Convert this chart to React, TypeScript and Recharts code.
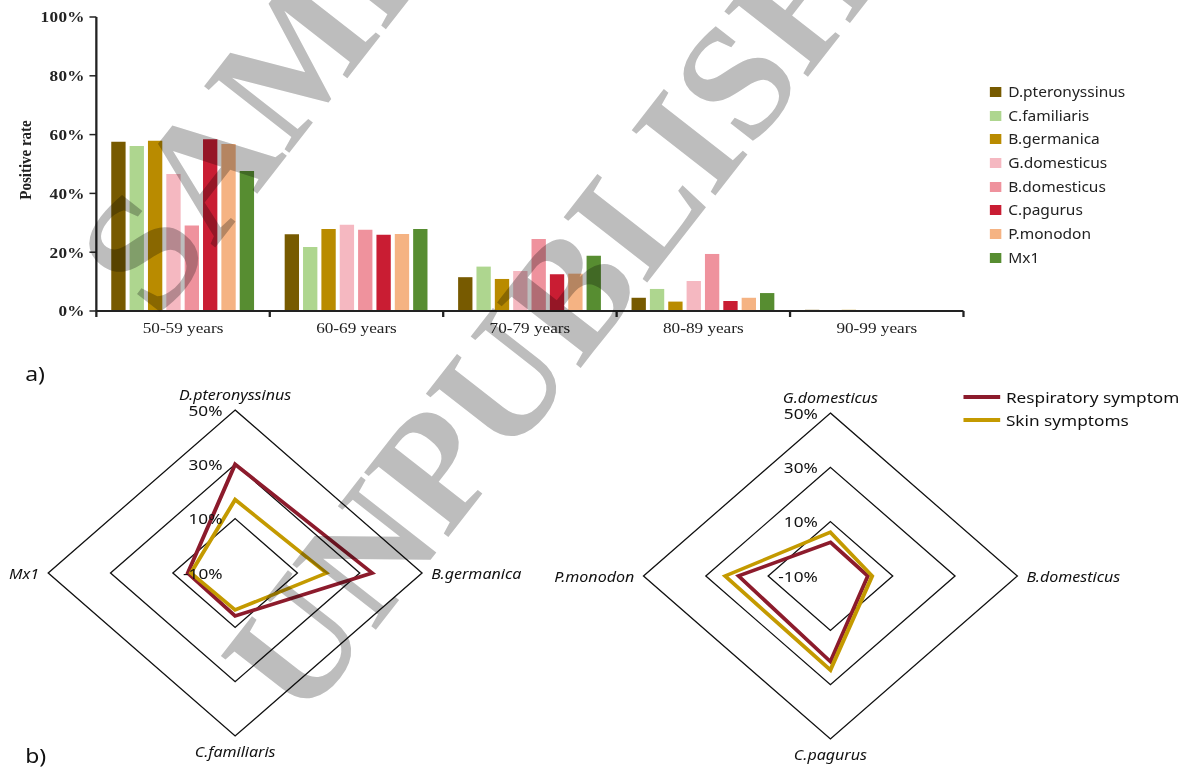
import React from "react";
import {
  BarChart,
  Bar,
  XAxis,
  YAxis,
  RadarChart,
  Radar,
  PolarGrid,
  PolarAngleAxis,
  PolarRadiusAxis,
} from "recharts";

const SERIF = '"Liberation Serif", "Times New Roman", serif';
const SANS = '"Noto Sans", "Open Sans", "DejaVu Sans", sans-serif';
// the figure is laid out narrow and then widened as a whole
const STRETCH = 1.147;

// ---- a) positive rate by age group ----
const ageGroups = ["50-59 years", "60-69 years", "70-79 years", "80-89 years", "90-99 years"];
const allergens = [
  "D.pteronyssinus",
  "C.familiaris",
  "B.germanica",
  "G.domesticus",
  "B.domesticus",
  "C.pagurus",
  "P.monodon",
  "Mx1",
];
const allergenColors = ["#775a00", "#aed68f", "#b98b00", "#f5b8c1", "#ef929d", "#c91d33", "#f5b383", "#578d31"];

const dPteronyssinus = [57.6, 26.1, 11.5, 4.5, 0.4];
const cFamiliaris = [56.1, 21.8, 15.1, 7.5, 0];
const bGermanica = [57.9, 27.9, 10.9, 3.2, 0.4];
const gDomesticus = [46.6, 29.3, 13.6, 10.2, 0];
const bDomesticus = [29.1, 27.6, 24.5, 19.4, 0];
const cPagurus = [58.4, 25.9, 12.5, 3.4, 0];
const pMonodon = [56.8, 26.2, 12.7, 4.5, 0.3];
const mx1 = [47.6, 27.9, 18.8, 6.1, 0];
const allergenRates = [dPteronyssinus, cFamiliaris, bGermanica, gDomesticus, bDomesticus, cPagurus, pMonodon, mx1];
const rateTicks = [0, 20, 40, 60, 80, 100];

// ---- b) positive rate by symptom ----
const symptoms = ["Respiratory symptom", "Skin symptoms"];
const symptomColors = ["#8c1b2c", "#c49a00"];
const radarTicks = [-10, 10, 30, 50];

const radarAxesA = ["D.pteronyssinus", "B.germanica", "C.familiaris", "Mx1"];
const respiratoryA = [30.0, 34.0, 5.8, 5.2];
const skinA = [17.0, 19.3, 3.6, 4.2];

const radarAxesB = ["G.domesticus", "B.domesticus", "C.pagurus", "P.monodon"];
const respiratoryB = [2.4, 2.0, 21.5, 19.5];
const skinB = [6.1, 3.4, 24.6, 23.8];

const PLOT_BOTTOM = 311;
const RADAR_W = 600;
const RADAR_CX = 300;

const barRows = ageGroups.map((group, i) => ({
  group,
  values: allergenRates.map((series) => series[i]),
}));

function AgeTick(props: any) {
  const { x, payload, index } = props;
  const half = payload.offset || 75.6;
  const last = index === ageGroups.length - 1;
  return (
    <g>
      <line x1={x - half} y1={PLOT_BOTTOM} x2={x - half} y2={PLOT_BOTTOM + 6} stroke="#222" strokeWidth={2} />
      {last && (
        <line x1={x + half} y1={PLOT_BOTTOM} x2={x + half} y2={PLOT_BOTTOM + 6} stroke="#222" strokeWidth={2} />
      )}
      <text x={x} y={PLOT_BOTTOM + 22} textAnchor="middle" fontFamily={SERIF} fontSize={15} fill="#222">
        {payload.value}
      </text>
    </g>
  );
}

function AgeBarChart() {
  return (
    <BarChart
      width={850}
      height={350}
      data={barRows}
      barGap={3.5}
      margin={{ top: 17, right: 10, bottom: 0, left: 24 }}
    >
      <XAxis
        dataKey="group"
        height={39}
        interval={0}
        axisLine={{ stroke: "#222", strokeWidth: 2 }}
        tickLine={false}
        tick={<AgeTick />}
      />
      <YAxis
        type="number"
        width={60}
        domain={[0, 100]}
        ticks={rateTicks}
        tickCount={6}
        tickFormatter={(v: number) => `${v}%`}
        axisLine={{ stroke: "#222", strokeWidth: 2 }}
        tickLine={{ stroke: "#222", strokeWidth: 1.5 }}
        tickSize={6}
        tickMargin={4}
        tick={{ fontFamily: SERIF, fontSize: 15, fontWeight: "bold", fill: "#222", letterSpacing: 0.3 }}
        label={({ viewBox }: any) => (
          <text
            transform={`translate(22, ${viewBox.y + viewBox.height / 2 - 4}) rotate(-90)`}
            textAnchor="middle"
            dominantBaseline="central"
            fontFamily={SERIF}
            fontWeight="bold"
            fontSize={15}
            fill="#222"
          >
            Positive rate
          </text>
        )}
      />
      {allergens.map((name, j) => (
        <Bar
          key={name}
          name={name}
          dataKey={(row: any) => row.values[j]}
          fill={allergenColors[j]}
          barSize={12.5}
          isAnimationActive={false}
        />
      ))}
    </BarChart>
  );
}

function AllergenLegend() {
  return (
    <div style={{ position: "absolute", left: 863, top: 80, fontFamily: SANS, fontSize: 13.5, color: "#222" }}>
      {allergens.map((name, j) => (
        <div key={name} style={{ height: 23.7, display: "flex", alignItems: "center" }}>
          <span style={{ width: 10, height: 10, background: allergenColors[j], marginRight: 6 }} />
          {name}
        </div>
      ))}
    </div>
  );
}

function SpokeLabel(props: any) {
  const { x, y, payload, textAnchor } = props;
  const s = Math.sin((payload.coordinate * Math.PI) / 180);
  let baseline = "central";
  let dy = 0;
  if (s > 0.5) {
    baseline = "auto";
    dy = -2;
  } else if (s < -0.5) {
    baseline = "hanging";
    dy = 1;
  }
  return (
    <text
      x={x}
      y={y + dy}
      textAnchor={textAnchor}
      dominantBaseline={baseline}
      fontFamily={SANS}
      fontStyle="italic"
      fontSize={14}
      fill="#111"
    >
      {payload.value}
    </text>
  );
}

function RingLabel(props: any) {
  const { x, y, payload } = props;
  return (
    <text x={x - 11} y={y} textAnchor="end" dominantBaseline="central" fontFamily={SANS} fontSize={15} fill="#111">
      {payload.value}%
    </text>
  );
}

function SymptomRadar({ axes, respiratory, skin, cy }: { axes: string[]; respiratory: number[]; skin: number[]; cy: number }) {
  const rows = axes.map((axis, i) => ({ axis, respiratory: respiratory[i], skin: skin[i] }));
  return (
    <RadarChart
      width={RADAR_W}
      height={407}
      data={rows}
      cx={RADAR_CX}
      cy={cy}
      outerRadius={163}
      margin={{ top: 0, right: 0, bottom: 0, left: 0 }}
    >
      <PolarGrid gridType="polygon" radialLines={false} stroke="#111" strokeWidth={1.2} />
      <PolarAngleAxis dataKey="axis" tick={<SpokeLabel />} tickLine={false} axisLine={false} />
      <PolarRadiusAxis
        angle={90}
        type="number"
        domain={[-10, 50]}
        ticks={radarTicks}
        tickCount={4}
        axisLine={false}
        tick={<RingLabel />}
      />
      <Radar
        name={symptoms[0]}
        dataKey="respiratory"
        stroke={symptomColors[0]}
        strokeWidth={3.5}
        fill="none"
        fillOpacity={0}
        dot={false}
        isAnimationActive={false}
      />
      <Radar
        name={symptoms[1]}
        dataKey="skin"
        stroke={symptomColors[1]}
        strokeWidth={3.5}
        fill="none"
        fillOpacity={0}
        dot={false}
        isAnimationActive={false}
      />
    </RadarChart>
  );
}

function SymptomLegend() {
  return (
    <div style={{ position: "absolute", left: 840, top: 385.5, fontFamily: SANS, fontSize: 15, color: "#111" }}>
      {symptoms.map((name, i) => (
        <div key={name} style={{ height: 23, display: "flex", alignItems: "center" }}>
          <span style={{ width: 32, height: 3.5, background: symptomColors[i], marginRight: 5 }} />
          {name}
        </div>
      ))}
    </div>
  );
}

function Watermark() {
  return (
    <svg
      width={1188}
      height={767}
      style={{ position: "absolute", left: 0, top: 0, pointerEvents: "none", mixBlendMode: "multiply" }}
    >
      <g transform="rotate(-52)" fontFamily={SERIF} fontWeight="bold" fill="#bdbdbd">
        <text x={-156} y={322} fontSize={165}>
          SAMPLE
        </text>
        <text x={-385} y={684} fontSize={162}>
          UNPUBLISHED
        </text>
      </g>
    </svg>
  );
}

const panelTag: React.CSSProperties = {
  position: "absolute",
  left: 22,
  fontFamily: SANS,
  fontSize: 20,
  color: "#111",
  lineHeight: "24px",
};

export default function App() {
  return (
    <div style={{ position: "absolute", left: 0, top: 0, width: 1188, height: 767, overflow: "hidden", background: "#fff" }}>
      <div
        style={{
          position: "absolute",
          left: 0,
          top: 0,
          width: 1036,
          height: 767,
          transform: `scaleX(${STRETCH})`,
          transformOrigin: "0 0",
        }}
      >
        <div style={{ position: "absolute", left: 0, top: 0 }}>
          <AgeBarChart />
        </div>
        <AllergenLegend />
        <div style={{ ...panelTag, top: 362 }}>a)</div>
        <div style={{ position: "absolute", left: 205 - RADAR_CX, top: 360 }}>
          <SymptomRadar axes={radarAxesA} respiratory={respiratoryA} skin={skinA} cy={213} />
        </div>
        <div style={{ position: "absolute", left: 724 - RADAR_CX, top: 360 }}>
          <SymptomRadar axes={radarAxesB} respiratory={respiratoryB} skin={skinB} cy={216} />
        </div>
        <SymptomLegend />
        <div style={{ ...panelTag, top: 744 }}>b)</div>
      </div>
      <Watermark />
    </div>
  );
}
